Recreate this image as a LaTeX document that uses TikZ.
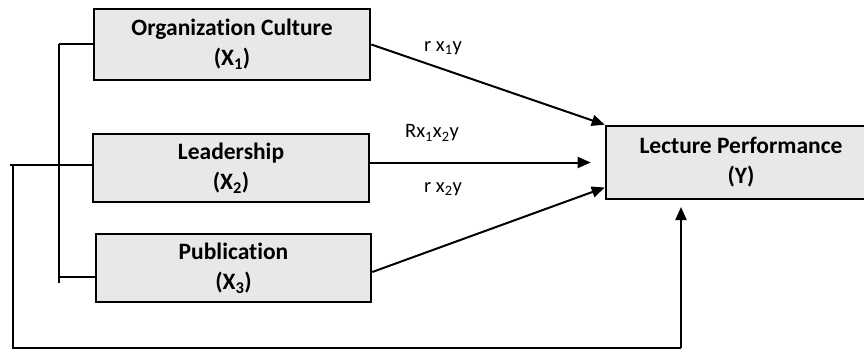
\documentclass[tikz,border=0pt]{standalone}
\usepackage{fontspec}
\setmainfont{Carlito}[Ligatures=NoCommon]
\usetikzlibrary{arrows.meta,calc}
\definecolor{boxfill}{HTML}{E8E8E8}
\tikzset{
  varbox/.style={draw=black, line width=2.6pt, fill=boxfill, align=center,
    font=\fontsize{23.5}{30}\selectfont\bfseries, inner sep=0pt, anchor=center},
  conn/.style={line width=2pt},
  arr/.style={line width=2pt, -{Triangle[length=13pt,width=11pt]}},
  lbl/.style={font=\fontsize{20.5}{24}\selectfont, inner sep=0pt}
}
\begin{document}
\begin{tikzpicture}[x=1pt,y=-1pt]
\useasboundingbox (0,0) rectangle (864,350);
\node[varbox, minimum width=276pt, minimum height=71pt] (X1) at (232,44.5) {Organization Culture\\(X\textsubscript{1})};
\node[varbox, minimum width=276pt, minimum height=68pt] (X2) at (231,168) {Leadership\\(X\textsubscript{2})};
\node[varbox, minimum width=275pt, minimum height=68pt] (X3) at (233.5,268) {Publication\\(X\textsubscript{3})};
\node[varbox, minimum width=270pt, minimum height=73pt] (Y) at (741,162.5) {Lecture Performance\\(Y)};
% labels
\node[lbl] (l1) at (443,48) {r x\textsubscript{1}y};
\node[lbl] (l2) at (432,133) {Rx\textsubscript{1}x\textsubscript{2}y};
\node[lbl] (l3) at (443,189) {r x\textsubscript{2}y};
% arrows to Y
\draw[arr] (X1.east) -- (Y.north west);
\coordinate (y2end) at ($(Y.west)+(-14,0)$);
\draw[arr] (X2.east |- Y.west) -- (y2end);
\coordinate (x3out) at ($(X3.east)+(0,4)$);
\coordinate (y3end) at ($(Y.west)+(0,25)$);
\draw[arr] (x3out) -- (y3end);
% left bracket
\coordinate (bTop) at (59,44.5);
\coordinate (bBot) at (59,283);
\coordinate (b3) at (59,277);
\draw[conn] (bTop) -- (X1.west);
\draw[conn] (bTop) -- (bBot);
\draw[conn] (b3) -- (X3.west |- b3);
\coordinate (lEnd) at (10,165);
\draw[conn] (lEnd) -- (X2.west |- lEnd);
% outer loop
\coordinate (o1) at (13,165);
\coordinate (o2) at (13,348);
\coordinate (o3) at (681,348);
\coordinate (o4) at (681,207);
\draw[conn] (o1) -- (o2) -- (o3);
\draw[arr] (o3) -- (o4);
\end{tikzpicture}
\end{document}
